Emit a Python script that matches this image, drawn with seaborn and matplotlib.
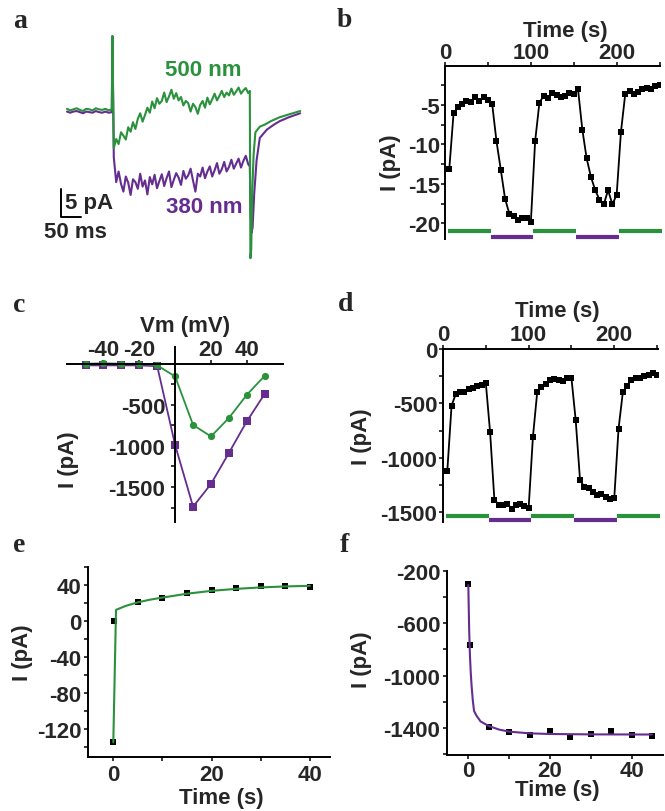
import numpy as np
import pandas as pd
import seaborn as sns
import matplotlib.pyplot as plt
from matplotlib.ticker import FixedLocator

GREEN = '#2a913c'
PURPLE = '#652d90'

# ---- panel a: current traces (ms, pA) ----
a_base_t = [0, 8, 16, 24, 32, 40, 48, 56, 64, 72, 80, 88, 96, 104, 112]
a_base_green = [0.2, -0.1, 0.1, 0.3, 0.0, -0.2, 0.2, 0.1, -0.1, 0.3, 0.1, 0.0, 0.2, -0.1, 0.1]
a_base_purple = [-0.3, -0.5, -0.3, -0.2, -0.4, -0.6, -0.3, -0.4, -0.5, -0.2, -0.4, -0.5, -0.3, -0.5, -0.4]
a_spike_t = [113.5]
a_spike = [13.2]
a_pulse_t = [117, 123, 129, 135, 141, 147, 153, 159, 165, 171, 177, 183, 189, 195, 201,
             207, 213, 219, 225, 231, 237, 243, 249, 255, 261, 267, 273, 279, 285, 291,
             297, 303, 309, 315, 321, 327, 333, 339, 345, 351, 357, 363, 369, 375, 381,
             387, 393, 399, 405, 411, 417, 423, 429, 435, 441, 447, 453, 457]
a_pulse_green = [-6.8, -5.2, -6.1, -4.0, -4.6, -5.3, -3.1, -3.9, -2.2, -3.4,
                 -1.6, -0.6, -2.1, -0.9, 0.4, -0.5, 1.5, 0.3, 2.1, 1.1,
                 1.6, 3.1, 1.4, 2.4, 3.6, 2.0, 3.0, 1.7, 2.3, 0.8,
                 1.6, 1.2, -0.3, 1.1, 0.5, -0.7, 0.9, 1.6, 0.4, 2.2,
                 1.0, 1.9, 2.9, 1.7, 2.5, 3.4, 2.3, 3.1, 2.6, 3.8,
                 2.7, 3.3, 4.0, 2.9, 3.5, 3.9, 3.0, 3.4]
a_pulse_purple = [-8.5, -12.9, -11.0, -13.2, -14.6, -11.9, -13.0, -15.2, -12.4, -12.9,
                  -14.1, -11.4, -13.7, -12.6, -15.1, -12.0, -13.3, -11.6, -14.0, -12.7,
                  -11.5, -13.6, -12.2, -11.0, -13.8, -12.5, -11.3, -12.1, -13.4, -10.9,
                  -12.3, -11.7, -10.5, -12.6, -14.6, -11.4, -11.9, -10.3, -12.2, -11.0,
                  -10.1, -11.9, -10.8, -9.5, -11.4, -10.6, -9.3, -11.0, -10.2, -8.9,
                  -10.5, -9.6, -8.7, -10.3, -9.1, -8.2, -9.7, -10.1]
a_tail_t_green = [458.5, 460.5, 463.5, 466.5, 471, 482, 495, 510, 532, 555, 583]
a_tail_green = [-26.5, -25, -14, -8, -4, -3, -2.6, -2.0, -1.3, -0.8, -0.2]
a_tail_t_purple = [459, 461, 464, 468, 474, 482, 500, 518, 532, 555, 583]
a_tail_purple = [-18, -22, -21, -15, -9, -5, -3.5, -2.6, -2.0, -1.3, -0.6]

# ---- panels b, d: current vs time with light periods ----
bd_t = [5, 10, 15, 20, 25, 30, 35, 40, 45, 50, 55, 60, 65, 70, 75, 80, 85, 90, 95, 100,
        105, 110, 115, 120, 125, 130, 135, 140, 145, 150, 155, 160, 165, 170, 175, 180,
        185, 190, 195, 200, 205, 210, 215, 220, 225, 230, 235, 240, 245, 250]
b_I = [-13.1, -6.0, -5.3, -4.9, -4.45, -4.6, -4.0, -4.5, -4.0, -4.4,
       -4.9, -9.6, -13.2, -16.9, -18.8, -19.1, -19.6, -19.3, -19.3, -19.9,
       -9.6, -4.7, -3.8, -4.1, -3.5, -3.7, -4.0, -3.8, -3.5, -3.6,
       -3.0, -8.1, -11.75, -14.1, -15.8, -17.0, -17.6, -15.8, -17.6, -16.4,
       -8.4, -3.6, -3.2, -3.65, -3.3, -2.9, -2.8, -2.9, -2.55, -2.4]
d_I = [-1125, -520, -413, -398, -398, -367, -358, -336, -327, -312,
       -765, -1385, -1431, -1437, -1422, -1468, -1437, -1428, -1446, -1462,
       -810, -398, -352, -321, -284, -275, -284, -297, -266, -266,
       -657, -1202, -1269, -1278, -1315, -1339, -1330, -1361, -1376, -1370,
       -734, -398, -336, -284, -266, -266, -251, -235, -223, -238]
light_start = [4, 53.5, 103, 153, 203]
light_end = [53.5, 103, 153, 203, 253]
light_wl = ['500 nm', '380 nm', '500 nm', '380 nm', '500 nm']

# ---- panel c: I-V ----
c_vm = [-50, -40, -30, -20, -10, 0, 10, 20, 30, 40, 50]
c_green = [0, 5, 0, 0, -20, -155, -745, -885, -660, -378, -146]
c_purple = [-20, -20, -20, -20, -30, -990, -1740, -1463, -1085, -700, -366]

# ---- panel e, f: time course and fits ----
e_t = [0, 0.2, 5, 10, 15, 20, 25, 30, 35, 40]
e_I = [-135, 0, 21, 26, 31, 34.5, 36.5, 39, 39.5, 38.5]
e_fit_t = [0, 0.55, 2.5, 5, 7.5, 10, 15, 20, 25, 30, 35, 40]
e_fit_I = [-135, 12.6, 17, 21, 24, 26.3, 30.6, 33.8, 36, 37.6, 38.7, 39.4]
f_t = [0, 0.3, 5, 10, 15, 20, 25, 30, 35, 40, 45]
f_I = [-305, -765, -1392, -1428, -1453, -1423, -1466, -1446, -1425, -1456, -1461]
f_fit_t = [0, 0.2, 0.4, 0.6, 0.8, 1.1, 1.4, 2, 3, 5, 7.5, 10, 15, 20, 30, 45]
f_fit_I = [-310, -640, -850, -980, -1077, -1190, -1270, -1306, -1350, -1385, -1412,
           -1428, -1441, -1446, -1449, -1450]

sns.set_theme(style='ticks')
plt.rcParams['font.family'] = ['Liberation Sans', 'DejaVu Sans']
plt.rcParams['font.weight'] = 'bold'
plt.rcParams['axes.labelweight'] = 'bold'
plt.rcParams['axes.unicode_minus'] = False
plt.rcParams['font.size'] = 16

W, H = 665, 812
fig = plt.figure(figsize=(W / 100, H / 100), dpi=100)
wl_color = {'500 nm': GREEN, '380 nm': PURPLE}


def add_ax(x0, y0, x1, y1):
    return fig.add_axes([x0 / W, 1 - y1 / H, (x1 - x0) / W, (y1 - y0) / H])


def style_ax(ax, xpad, ypad):
    for s in ax.spines.values():
        s.set_linewidth(1.4)
        s.set_color('black')
    ax.tick_params(which='major', length=3, width=1.1, labelsize=16, color='black')
    ax.tick_params(which='minor', length=3, width=1.1, color='black')
    ax.tick_params(axis='x', which='both', pad=xpad)
    ax.tick_params(axis='y', which='both', pad=ypad)
    for lab in ax.get_xticklabels() + ax.get_yticklabels():
        lab.set_fontweight('bold')


def label_at(axis, x, y):
    axis.set_label_coords(x / W, 1 - y / H, transform=fig.transFigure)


# ---------------- panel a ----------------
ax = add_ax(40, 30, 310, 262)
sns.lineplot(x=a_base_t + a_spike_t + a_pulse_t + a_tail_t_purple,
             y=a_base_purple + a_spike + a_pulse_purple + a_tail_purple,
             color=PURPLE, linewidth=1.5, sort=False, estimator=None, ax=ax)
sns.lineplot(x=a_base_t + a_spike_t + a_pulse_t + a_tail_t_green,
             y=a_base_green + a_spike + a_pulse_green + a_tail_green,
             color=GREEN, linewidth=1.5, sort=False, estimator=None, ax=ax)
ax.set_xlim(-67.5, 607.5)
ax.set_ylim(-27, 14.46)
ax.plot([-15, -15, 35], [-14.1, -19.1, -19.1], color='black', linewidth=1.4)
ax.text(-5, -16.6, '5 pA', fontsize=16, fontweight='bold', va='center', ha='left')
ax.text(22, -21.8, '50 ms', fontsize=16, fontweight='bold', va='center', ha='center')
ax.text(340, 7.2, '500 nm', color=GREEN, fontsize=16, fontweight='bold', ha='center', va='center')
ax.text(344, -17.3, '380 nm', color=PURPLE, fontsize=16, fontweight='bold', ha='center', va='center')
ax.axis('off')


# ---------------- panels b and d ----------------
def time_panel(rect, values, ylim, yticks, yminor, bar_y, ylabel_xy, xlabel_xy, xpad, ypad):
    ax = add_ax(*rect)
    sns.lineplot(x=bd_t, y=values, color='black', marker='s', markersize=3.8,
                 markeredgewidth=0, linewidth=1.3, sort=False, estimator=None, ax=ax)
    for s, e, wl in zip(light_start, light_end, light_wl):
        ax.hlines(bar_y[wl], s, e, colors=wl_color[wl], linewidth=3, clip_on=False)
    ax.spines[['right', 'bottom']].set_visible(False)
    ax.xaxis.tick_top()
    ax.xaxis.set_label_position('top')
    ax.set_xlim(0, 250.5)
    ax.set_ylim(*ylim)
    ax.set_xticks([0, 100, 200])
    ax.xaxis.set_minor_locator(FixedLocator([50, 150, 250]))
    ax.set_yticks(yticks)
    ax.yaxis.set_minor_locator(FixedLocator(yminor))
    ax.set_xlabel('Time (s)', fontsize=16, fontweight='bold')
    ax.set_ylabel('I (pA)', fontsize=16, fontweight='bold')
    label_at(ax.xaxis, *xlabel_xy)
    label_at(ax.yaxis, *ylabel_xy)
    style_ax(ax, xpad, ypad)
    return ax


time_panel((445, 66.7, 660, 240), b_I, (-22, 0), [-5, -10, -15, -20],
           [-2.5, -7.5, -12.5, -17.5], {'500 nm': -21.0, '380 nm': -21.7},
           (401, 163), (565, 37), -1, 0.5)
time_panel((443, 350, 657.5, 523.3), d_I, (-1593, 0), [0, -500, -1000, -1500],
           [-250, -750, -1250], {'500 nm': -1531, '380 nm': -1568},
           (372, 437), (557, 317), 0, 1)

# ---------------- panel c ----------------
ax = add_ax(66.7, 348.3, 282.7, 523.3)
df_c = pd.DataFrame({'Vm': c_vm * 2, 'I': c_purple + c_green,
                     'wl': ['380 nm'] * len(c_vm) + ['500 nm'] * len(c_vm)})
sns.lineplot(data=df_c, x='Vm', y='I', hue='wl', style='wl', hue_order=['380 nm', '500 nm'],
             palette=wl_color, markers={'380 nm': 's', '500 nm': 'o'}, dashes=False,
             markersize=5.2, markeredgewidth=0, linewidth=1.3, legend=False,
             estimator=None, ax=ax)
ax.spines['left'].set_position(('data', 0))
ax.spines['top'].set_position(('data', 0))
ax.spines[['right', 'bottom']].set_visible(False)
ax.xaxis.tick_top()
ax.xaxis.set_label_position('top')
ax.set_xlim(-60.5, 60)
ax.set_ylim(-1930, 200)
ax.set_xticks([-40, -20, 20, 40])
ax.set_yticks([-500, -1000, -1500])
ax.yaxis.set_minor_locator(FixedLocator([-250, -750, -1250, -1750]))
ax.set_xlabel('Vm (mV)', fontsize=16, fontweight='bold')
ax.set_ylabel('I (pA)', fontsize=16, fontweight='bold')
label_at(ax.xaxis, 185, 332)
label_at(ax.yaxis, 79, 460)
style_ax(ax, 0, 4)

# ---------------- panel e ----------------
ax = add_ax(88, 568.3, 330, 758.3)
sns.scatterplot(x=e_t, y=e_I, color='black', marker='s', s=22, linewidth=0, ax=ax)
sns.lineplot(x=e_fit_t, y=e_fit_I, color=GREEN, linewidth=1.5, sort=False, estimator=None, ax=ax)
ax.spines[['right', 'top']].set_visible(False)
ax.set_xlim(-5.15, 44.1)
ax.set_ylim(-151.5, 60)
ax.set_xticks([0, 20, 40])
ax.xaxis.set_minor_locator(FixedLocator([10, 30]))
ax.set_yticks([-120, -80, -40, 0, 40])
ax.yaxis.set_minor_locator(FixedLocator([-140, -100, -60, -20, 20, 60]))
ax.set_xlabel('Time (s)', fontsize=16, fontweight='bold')
ax.set_ylabel('I (pA)', fontsize=16, fontweight='bold')
label_at(ax.xaxis, 221, 788)
label_at(ax.yaxis, 33, 653)
style_ax(ax, 2, 1.5)

# ---------------- panel f ----------------
ax = add_ax(447.3, 571.7, 663, 755.7)
sns.scatterplot(x=f_t, y=f_I, color='black', marker='s', s=22, linewidth=0, ax=ax)
sns.lineplot(x=f_fit_t, y=f_fit_I, color=PURPLE, linewidth=1.5, sort=False, estimator=None, ax=ax)
ax.spines[['right', 'top']].set_visible(False)
ax.set_xlim(-5.15, 47.7)
ax.set_ylim(-1604, -200)
ax.set_xticks([0, 20, 40])
ax.xaxis.set_minor_locator(FixedLocator([10, 30]))
ax.set_yticks([-200, -600, -1000, -1400])
ax.yaxis.set_minor_locator(FixedLocator([-400, -800, -1200, -1600]))
ax.set_xlabel('Time (s)', fontsize=16, fontweight='bold')
ax.set_ylabel('I (pA)', fontsize=16, fontweight='bold')
label_at(ax.xaxis, 557, 780)
label_at(ax.yaxis, 372, 660)
style_ax(ax, 0.5, 2)

# panel letters
for letter, (x, y) in zip('abcdef', [(13, 28), (337, 27), (13, 312), (338, 311), (13, 552), (340, 552)]):
    fig.text(x / W, 1 - y / H, letter, fontsize=20, fontweight='bold',
             family=['Liberation Serif', 'DejaVu Serif'], ha='left', va='baseline')

fig.savefig('out.png', dpi=100)
